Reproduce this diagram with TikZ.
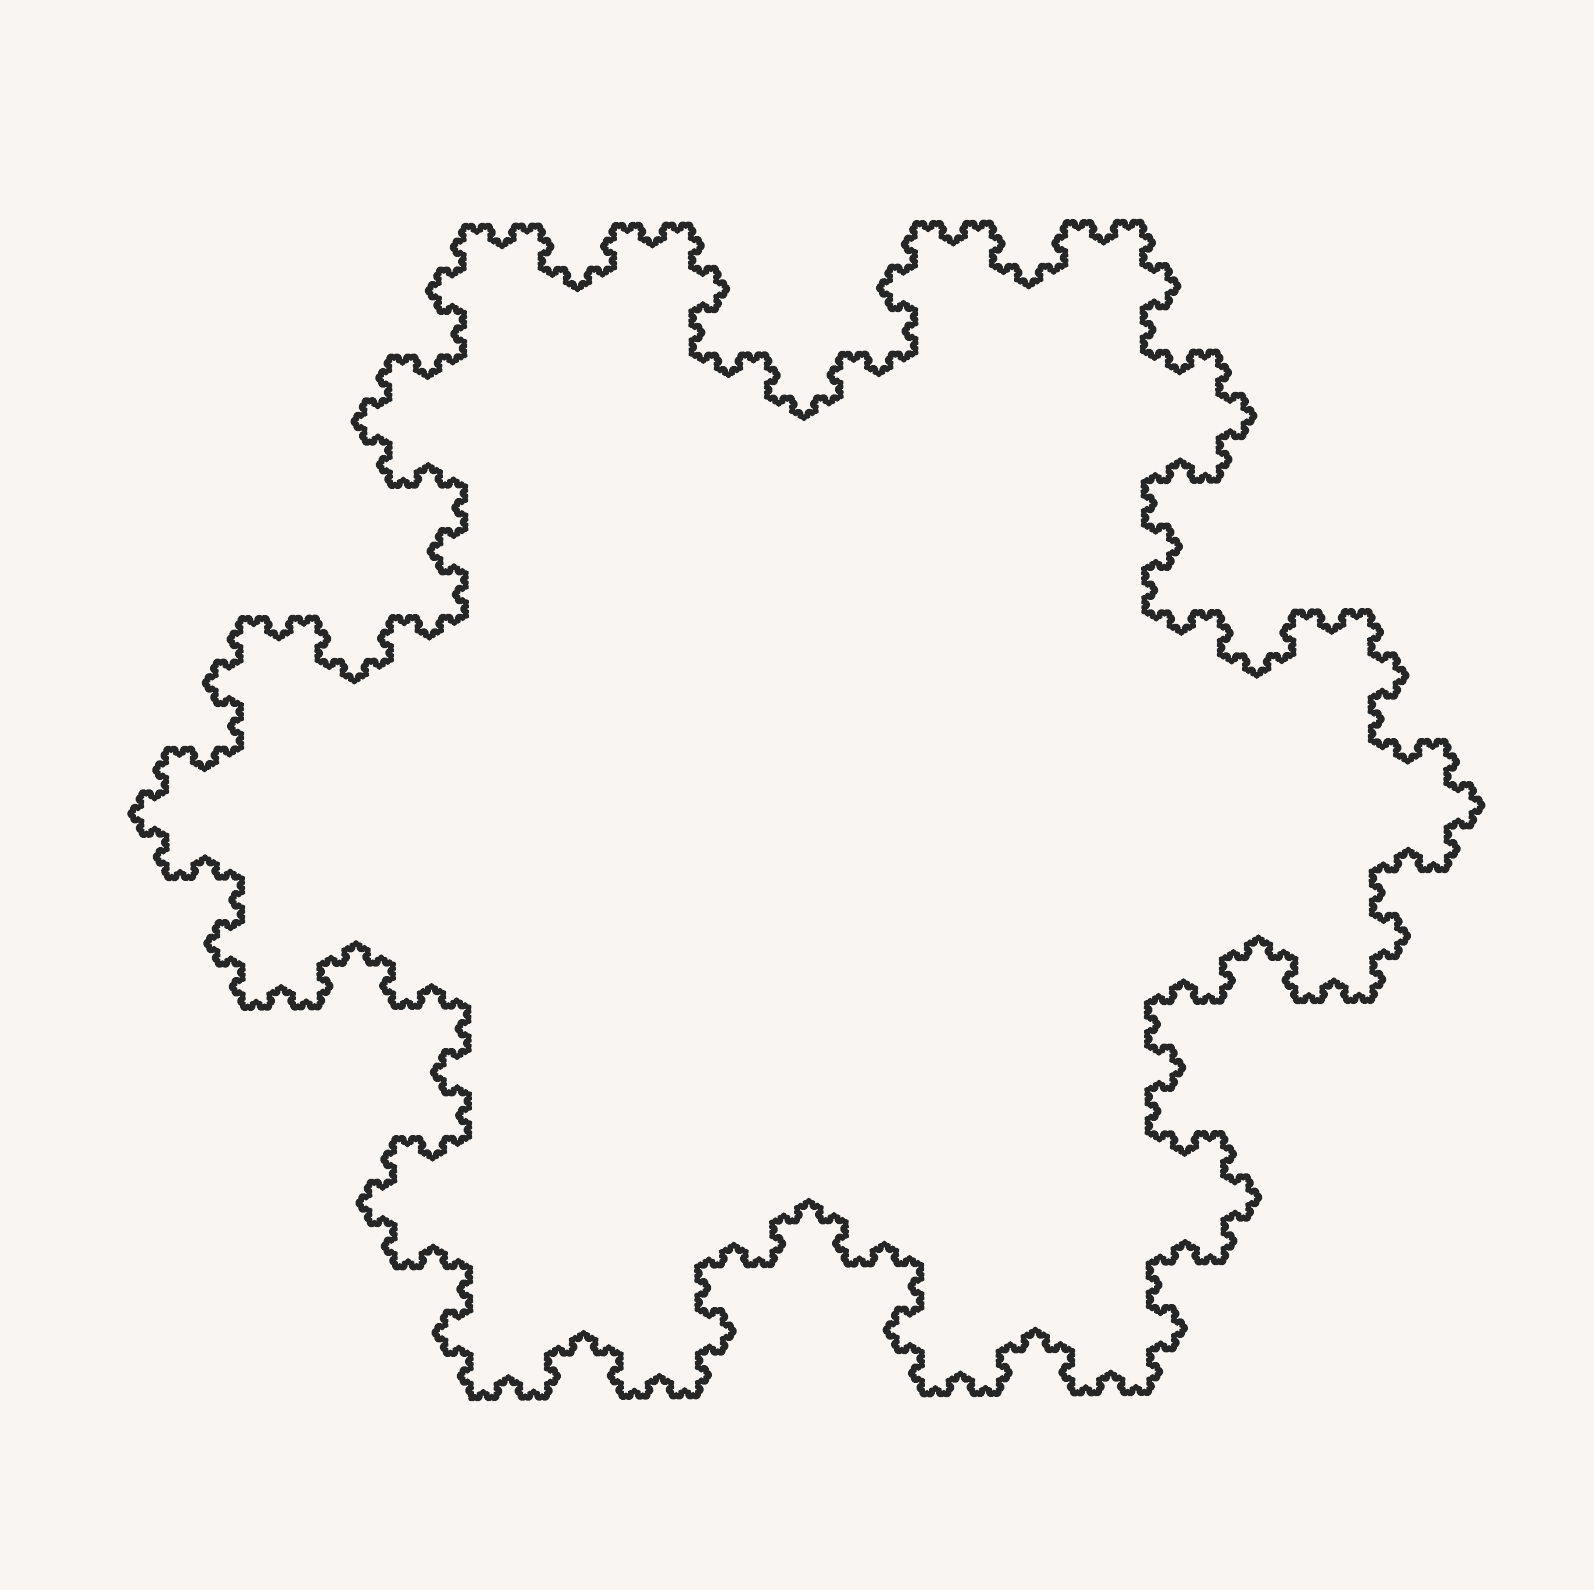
\documentclass[tikz,border=0pt]{standalone}
\usetikzlibrary{lindenmayersystems}
\definecolor{paper}{RGB}{248,245,243}
\definecolor{ink}{RGB}{38,38,38}
\pgfdeclarelindenmayersystem{Koch inward}{\rule{F -> F+F--F+F}}

\begin{document}
\begin{tikzpicture}[
  outline/.style={draw=ink, line width=1.4pt, line join=round, line cap=round},
]
  % Sheet
  \fill[paper] (0,0) rectangle (15.94,15.90);
  \useasboundingbox (0,0) rectangle (15.94,15.90);

  % Hexagon, every side notched inwards (5 levels), from its lower left corner
  \begin{scope}[shift={(8.06,7.84)}, rotate=0.5, shift={(240:6.81)}]
    \draw[outline, lindenmayer system={Koch inward, axiom=F+F+F+F+F+F,
      order=5, step=0.02802cm, angle=60}]
      lindenmayer system;
  \end{scope}
\end{tikzpicture}
\end{document}
